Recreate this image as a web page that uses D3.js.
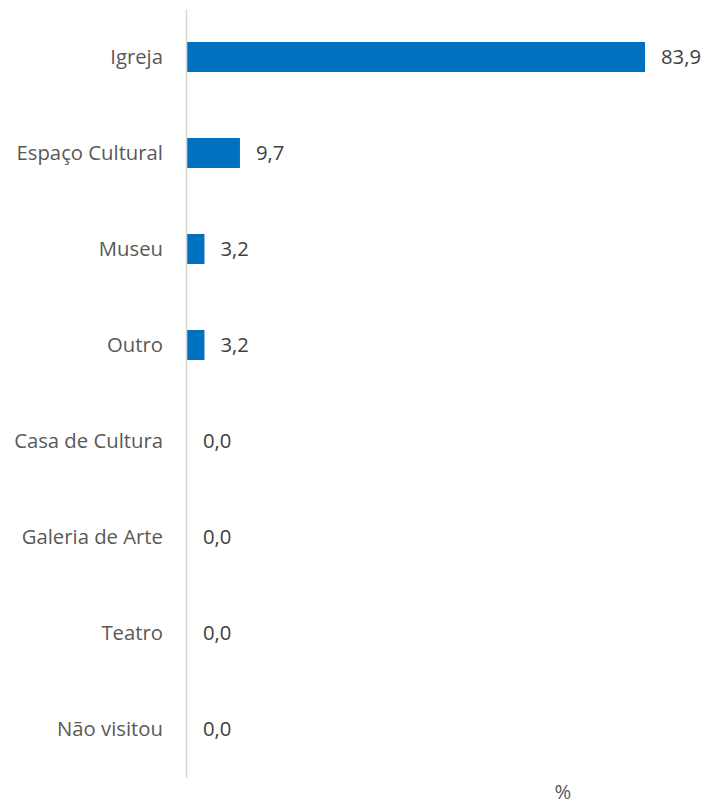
<!DOCTYPE html>
<html><head><meta charset="utf-8">
<script src="https://cdn.jsdelivr.net/npm/d3@7"></script>
<style>body{margin:0;background:#fff;} svg{display:block;}</style>
</head><body>
<script>
const categories = ["Igreja","Espaço Cultural","Museu","Outro","Casa de Cultura","Galeria de Arte","Teatro","Não visitou"];
const values = [83.9, 9.7, 3.2, 3.2, 0.0, 0.0, 0.0, 0.0];
const axisTitle = "%";

const W = 706, H = 804;
const svg = d3.select("body").append("svg").attr("width", W).attr("height", H);
const x0 = 187;
const x = d3.scaleLinear().domain([0, 83.9]).range([x0, 645]);
const y = d3.scaleBand().domain(categories).range([9, 777]).paddingInner(0.6875).paddingOuter(0.34375);
const font = "'Open Sans', sans-serif";

svg.selectAll("rect.bar").data(values).join("rect")
  .attr("x", x(0)).attr("y", (d,i)=>y(categories[i]))
  .attr("width", d => x(d)-x(0)).attr("height", y.bandwidth())
  .attr("fill", "#0070C0");

svg.append("line").attr("x1", 186.5).attr("x2", 186.5).attr("y1", 9).attr("y2", 778)
  .attr("stroke", "#d9d9d9").attr("stroke-width", 1.5);

svg.selectAll("text.cat").data(categories).join("text")
  .attr("x", 163).attr("y", d => y(d)+y.bandwidth()/2).attr("dy", "0.35em")
  .attr("text-anchor", "end").attr("font-family", font).attr("font-size", 20.3)
  .attr("fill", "#595959").text(d=>d);

svg.selectAll("text.val").data(values).join("text")
  .attr("x", d => x(d)+16).attr("y", (d,i)=>y(categories[i])+y.bandwidth()/2).attr("dy", "0.35em")
  .attr("font-family", font).attr("font-size", 20.3)
  .attr("fill", "#404040").text(d => d.toFixed(1).replace(".", ","));

svg.append("text").attr("x", 563).attr("y", 792).attr("dy","0.35em").attr("text-anchor","middle")
  .attr("font-family", font).attr("font-size", 20.3).attr("fill", "#595959").text(axisTitle);
</script>
</body></html>
